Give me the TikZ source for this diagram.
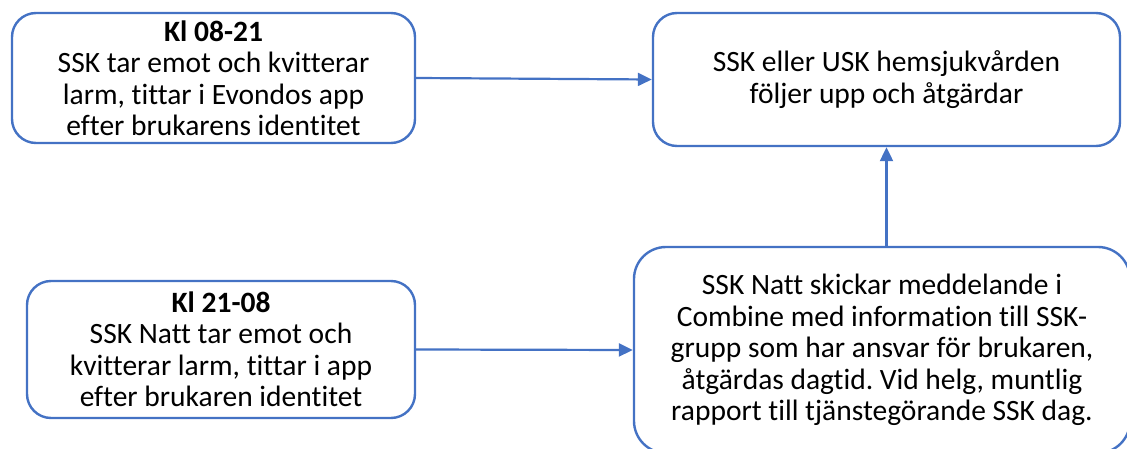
\documentclass[tikz,border=0pt]{standalone}
\usepackage{fontspec}
\setmainfont{Carlito}[Ligatures=NoCommon]
\usetikzlibrary{arrows.meta}
\definecolor{obl}{HTML}{4472C4}
\frenchspacing
\tikzset{
  box/.style={draw=obl, line width=2.4pt, rounded corners=24pt, fill=white, align=center,
    font=\fontsize{29.5}{31.5}\selectfont, inner sep=0pt},
  conn/.style={draw=obl, line width=2.2pt, -{Triangle[length=14pt,width=13pt]}}
}
\begin{document}
\begin{tikzpicture}[x=1pt,y=-1pt]
\useasboundingbox (0,0) rectangle (1127,449);
\clip (0,0) rectangle (1127,449);
\node[box, minimum width=403pt, minimum height=130pt, text depth=0pt] (b1) at (213.5,78)
  {\textbf{Kl 08-21}\\SSK tar emot och kvitterar\\larm, tittar i Evondos app\\efter brukarens identitet};
\node[box, minimum width=467pt, minimum height=133pt] (b2) at (886.5,79.5)
  {SSK eller USK hemsjukvården\\följer upp och åtgärdar};
\node[box, minimum width=388pt, minimum height=137pt] (b3) at (221,349.5)
  {\textbf{Kl 21-08}\\SSK Natt tar emot och\\kvitterar larm, tittar i app\\efter brukaren identitet};
\node[box, rounded corners=32pt, minimum width=496pt, minimum height=206pt] (b4) at (882,350)
  {SSK Natt skickar meddelande i\\Combine med information till SSK-\\grupp som har ansvar för brukaren,\\åtgärdas dagtid. Vid helg, muntlig\\rapport till tjänstegörande SSK dag.};
\draw[conn] (b1.east) -- (b2.west);
\draw[conn] (b3.east) -- (b4.west);
\draw[conn] (b4.north -| b2.south) -- (b2.south);
\end{tikzpicture}
\end{document}
